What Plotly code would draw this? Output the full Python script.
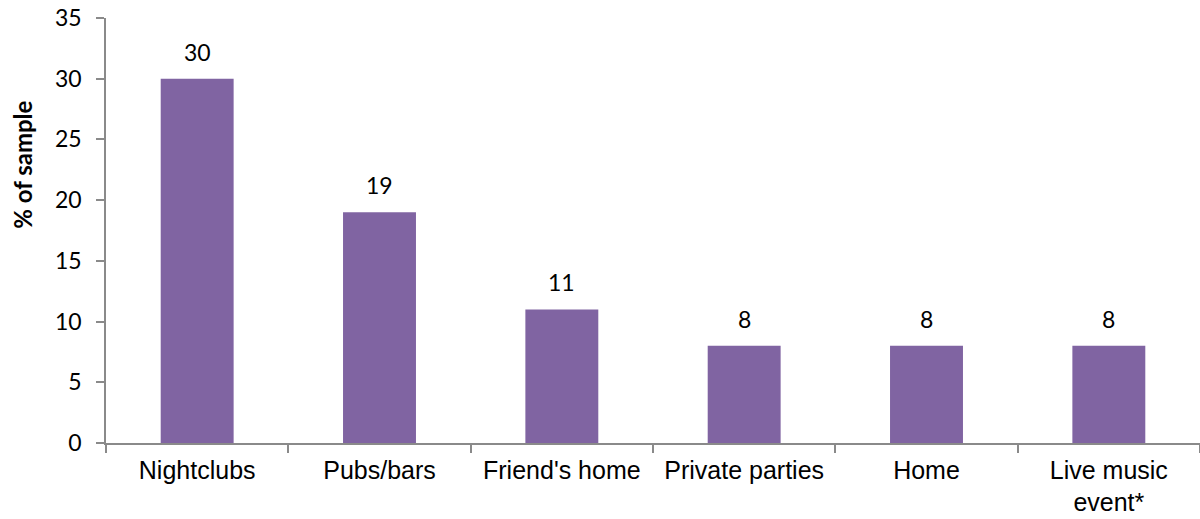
import plotly.graph_objects as go

# Venue categories and share of sample (%)
categories = ["Nightclubs", "Pubs/bars", "Friend's home", "Private parties", "Home", "Live music<br>event*"]
values = [30, 19, 11, 8, 8, 8]
y_ticks = [0, 5, 10, 15, 20, 25, 30, 35]

bar_color = "#8064A2"
axis_color = "#8A8A8A"
label_font = dict(family="Lato, Carlito, Calibri, sans-serif", size=23, color="#000000")
cat_font = dict(family="Liberation Sans, Arial, sans-serif", size=25, color="#000000")

fig = go.Figure()
fig.add_trace(go.Bar(
    x=categories,
    y=values,
    marker=dict(color=bar_color, line=dict(width=0)),
    width=0.4,
    hoverinfo="skip",
))

# value labels above each bar
for c, v in zip(categories, values):
    fig.add_annotation(
        x=c, y=v, text=str(v), showarrow=False,
        yanchor="bottom", yshift=11, font=label_font,
    )

fig.update_layout(
    width=1200, height=519,
    margin=dict(l=106, r=0, t=18, b=76),
    paper_bgcolor="white", plot_bgcolor="white",
    showlegend=False,
    xaxis=dict(
        type="category",
        showline=True, linecolor=axis_color, linewidth=1.5,
        ticks="outside", tickson="boundaries", ticklen=8, tickwidth=1.5, tickcolor=axis_color,
        tickfont=cat_font, showgrid=False, zeroline=False,
        ticklabelstandoff=4,
    ),
    yaxis=dict(
        range=[0, 35], tickvals=y_ticks,
        showline=True, linecolor=axis_color, linewidth=1.5,
        ticks="outside", ticklen=8, tickwidth=1.5, tickcolor=axis_color,
        tickfont=label_font, showgrid=False, zeroline=False,
        ticklabelstandoff=10,
    ),
)

fig.add_annotation(
    text="<b>% of sample</b>", textangle=-90, showarrow=False,
    xref="paper", yref="paper", x=-0.077, y=0.654, xanchor="center", yanchor="middle",
    font=dict(family="Lato, Carlito, Calibri, sans-serif", size=24, color="#000000"),
)

fig.write_html("out.html")
